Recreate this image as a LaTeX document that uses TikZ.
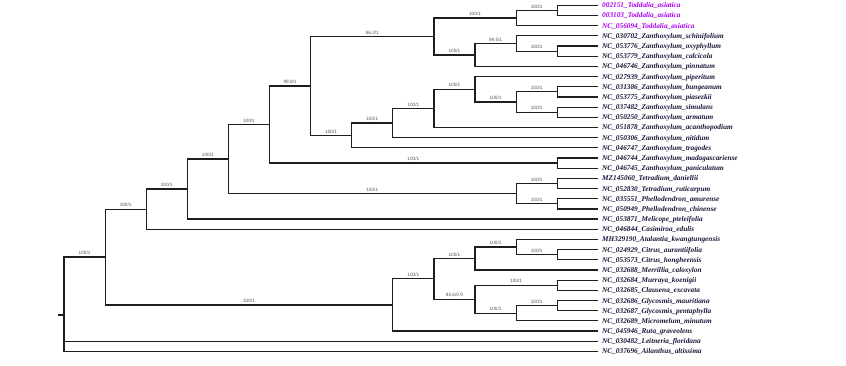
\documentclass[tikz,border=0pt]{standalone}
\usepackage{fontspec}
\setmainfont{Liberation Serif}
\newfontfamily\blabfont{Liberation Sans}
\definecolor{toddc}{RGB}{170,0,240}
\definecolor{leafc}{RGB}{25,20,55}
\definecolor{blabc}{RGB}{95,80,70}
\definecolor{linec}{RGB}{30,30,30}
\tikzset{
  branch/.style={line width=1.2pt, draw=linec},
  leaf/.style={anchor=base west, inner sep=0pt, font=\fontsize{7.3}{8}\selectfont\bfseries\itshape},
  blab/.style={anchor=base, inner sep=0pt, yshift=2.3pt, text=blabc, font=\blabfont\fontsize{4.7}{5}\selectfont}
}
\newcommand\tbr[3]{\draw[branch] (#1) |- (#2) node[blab,pos=0.75]{#3};}
\newcommand\tbn[2]{\draw[branch] (#1) |- (#2);}
\begin{document}
\begin{tikzpicture}[x=1pt,y=-1pt]
\useasboundingbox (0,0) rectangle (846,365);
% leaves
\foreach \i/\t/\c in {
 0/002151\_Toddalia\_asiatica/toddc,
 1/003103\_Toddalia\_asiatica/toddc,
 2/NC\_056094\_Toddalia\_asiatica/toddc,
 3/NC\_030702\_Zanthoxylum\_schinifolium/leafc,
 4/NC\_053776\_Zanthoxylum\_oxyphyllum/leafc,
 5/NC\_053779\_Zanthoxylum\_calcicola/leafc,
 6/NC\_046746\_Zanthoxylum\_pinnatum/leafc,
 7/NC\_027939\_Zanthoxylum\_piperitum/leafc,
 8/NC\_031386\_Zanthoxylum\_bungeanum/leafc,
 9/NC\_053775\_Zanthoxylum\_piasezkii/leafc,
 10/NC\_037482\_Zanthoxylum\_simulans/leafc,
 11/NC\_050250\_Zanthoxylum\_armatum/leafc,
 12/NC\_051878\_Zanthoxylum\_acanthopodium/leafc,
 13/NC\_050306\_Zanthoxylum\_nitidum/leafc,
 14/NC\_046747\_Zanthoxylum\_tragodes/leafc,
 15/NC\_046744\_Zanthoxylum\_madagascariense/leafc,
 16/NC\_046745\_Zanthoxylum\_paniculatum/leafc,
 17/MZ145060\_Tetradium\_daniellii/leafc,
 18/NC\_052830\_Tetradium\_ruticarpum/leafc,
 19/NC\_035551\_Phellodendron\_amurense/leafc,
 20/NC\_050949\_Phellodendron\_chinense/leafc,
 21/NC\_053871\_Melicope\_pteleifolia/leafc,
 22/NC\_046844\_Casimiroa\_edulis/leafc,
 23/MH329190\_Atalantia\_kwangtungensis/leafc,
 24/NC\_024929\_Citrus\_aurantiifolia/leafc,
 25/NC\_053573\_Citrus\_hongheensis/leafc,
 26/NC\_032688\_Merrillia\_caloxylon/leafc,
 27/NC\_032684\_Murraya\_koenigii/leafc,
 28/NC\_032685\_Clausena\_excavata/leafc,
 29/NC\_032686\_Glycosmis\_mauritiana/leafc,
 30/NC\_032687\_Glycosmis\_pentaphylla/leafc,
 31/NC\_032689\_Micromelum\_minutum/leafc,
 32/NC\_045946\_Ruta\_graveolens/leafc,
 33/NC\_030482\_Leitneria\_floridana/leafc,
 34/NC\_037696\_Ailanthus\_altissima/leafc}{
  \pgfmathsetmacro\yy{5.3+10.18*\i}
  \coordinate (e\i) at (597.5,\yy);
  \node[leaf, text=\c] (lf\i) at (602,\yy+2.5) {\t};
}
% internal nodes
\coordinate (td1) at (557.2,10.39);
\coordinate (td)  at (516.1,18.03);
\coordinate (za2) at (557.2,51.11);
\coordinate (za1) at (516.1,43.48);
\coordinate (za)  at (475.0,54.93);
\coordinate (A)   at (433.9,36.48);
\coordinate (G)   at (557.2,91.83);
\coordinate (H)   at (557.2,112.19);
\coordinate (F)   at (516.1,102.01);
\coordinate (E)   at (475.0,89.29);
\coordinate (D)   at (433.9,108.38);
\coordinate (C)   at (392.8,123.01);
\coordinate (B)   at (351.7,135.42);
\coordinate (R)   at (310.6,85.95);
\coordinate (M)   at (557.2,163.09);
\coordinate (N)   at (269.5,124.52);
\coordinate (J)   at (557.2,183.45);
\coordinate (K)   at (557.2,203.81);
\coordinate (I)   at (516.1,193.63);
\coordinate (L)   at (228.4,159.08);
\coordinate (P)   at (187.3,189.08);
\coordinate (Q)   at (146.2,209.17);
\coordinate (Y)   at (557.2,254.71);
\coordinate (X)   at (516.1,247.08);
\coordinate (V)   at (475.0,258.53);
\coordinate (Z)   at (557.2,285.25);
\coordinate (BB)  at (557.2,305.61);
\coordinate (AA)  at (516.1,313.25);
\coordinate (W)   at (475.0,299.25);
\coordinate (U)   at (433.9,278.89);
\coordinate (T)   at (392.8,304.98);
\coordinate (S)   at (105.1,257.08);
\coordinate (root) at (64,315);
\coordinate (stub) at (58.3,315);
% edges
\draw[branch] (stub) -- (root);
\tbr{root}{S}{100/1}
\tbn{root}{e33}
\tbn{root}{e34}
\tbr{S}{Q}{100/1}
\tbr{S}{T}{100/1}
\tbr{Q}{P}{100/1}
\tbn{Q}{e22}
\tbr{P}{L}{100/1}
\tbn{P}{e21}
\tbr{L}{N}{100/1}
\tbr{L}{I}{100/1}
\tbr{I}{J}{100/1}
\tbr{I}{K}{100/1}
\tbn{J}{e17}\tbn{J}{e18}\tbn{K}{e19}\tbn{K}{e20}
\tbr{N}{R}{99.8/1}
\tbr{N}{M}{100/1}
\tbn{M}{e15}\tbn{M}{e16}
\tbr{R}{A}{86.2/1}
\tbr{R}{B}{100/1}
\tbr{A}{td}{100/1}
\tbr{td}{td1}{100/1}
\tbn{td1}{e0}\tbn{td1}{e1}\tbn{td}{e2}
\tbr{A}{za}{100/1}
\tbr{za}{za1}{99.5/1}
\tbn{za}{e6}
\tbn{za1}{e3}
\tbr{za1}{za2}{100/1}
\tbn{za2}{e4}\tbn{za2}{e5}
\tbr{B}{C}{100/1}\tbn{B}{e14}
\tbr{C}{D}{100/1}\tbn{C}{e13}
\tbr{D}{E}{100/1}\tbn{D}{e12}
\tbn{E}{e7}\tbr{E}{F}{100/1}
\tbr{F}{G}{100/1}\tbr{F}{H}{100/1}
\tbn{G}{e8}\tbn{G}{e9}\tbn{H}{e10}\tbn{H}{e11}
\tbr{T}{U}{100/1}\tbn{T}{e32}
\tbr{U}{V}{100/1}\tbr{U}{W}{85.6/0.9}
\tbr{V}{X}{100/1}\tbn{V}{e26}
\tbn{X}{e23}\tbr{X}{Y}{100/1}
\tbn{Y}{e24}\tbn{Y}{e25}
\tbr{W}{Z}{100/1}\tbr{W}{AA}{100/1}
\tbn{Z}{e27}\tbn{Z}{e28}
\tbr{AA}{BB}{100/1}\tbn{AA}{e31}
\tbn{BB}{e29}\tbn{BB}{e30}
\end{tikzpicture}
\end{document}
